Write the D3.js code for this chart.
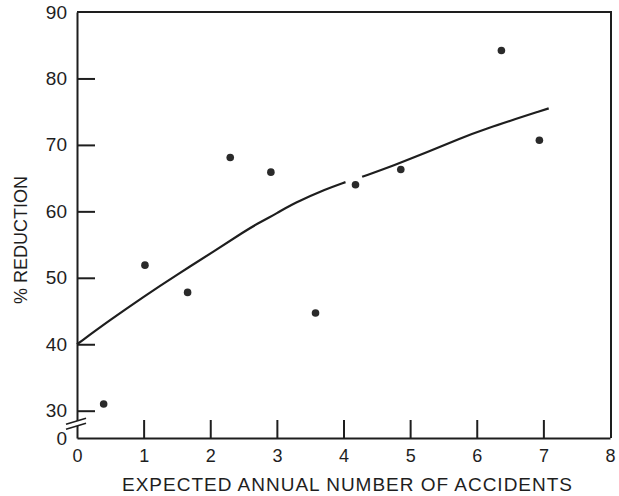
<!DOCTYPE html>
<html>
<head>
<meta charset="utf-8">
<script src="https://cdn.jsdelivr.net/npm/d3@7"></script>
<style>
  body { margin: 0; background: #fff; }
  svg text { font-family: "Liberation Sans", Arial, Helvetica, sans-serif; fill: #1e1e1e; }
</style>
</head>
<body>
<div id="chart"></div>
<script>
// observed accidents: expected annual number vs % reduction
const pointX = [0.40, 1.02, 1.66, 2.30, 2.91, 3.58, 4.18, 4.86, 6.37, 6.94];
const pointY = [31.0, 51.9, 47.8, 68.1, 65.9, 44.7, 64.0, 66.3, 84.2, 70.7];

// fitted curve (null = gap where it crosses the dot)
const curveX = [0, 0.49, 0.99, 1.49, 2.09, 2.50, 2.75, 3.00, 3.25, 3.75, 4.03, 4.15, 4.28, 4.75, 5.26, 5.76, 6.06, 7.08];
const curveY = [40.0, 43.6, 47.1, 50.4, 54.2, 56.9, 58.4, 59.7, 61.2, 63.4, 64.4, null, 65.2, 66.9, 68.9, 71.0, 72.2, 75.5];

const xTicks = [0, 1, 2, 3, 4, 5, 6, 7, 8];
const yTicks = [0, 30, 40, 50, 60, 70, 80, 90];

const width = 619, height = 496;
const plotLeft = 77, plotRight = 611, plotTop = 12, plotBottom = 438;

const svg = d3.select("#chart")
  .append("svg")
    .attr("width", width)
    .attr("height", height);

const x = d3.scaleLinear()
  .domain([0, 8])
  .range([plotLeft, plotRight - 1]);

// broken axis: 0 sits at the bottom, 30..90 above the break
const y = d3.scaleLinear()
  .domain([0, 30, 90])
  .range([plotBottom, 410.7, plotTop]);

// frame (top and right)
svg.append("path")
  .attr("d", `M${plotLeft},${plotTop}H${plotRight}V${plotBottom}`)
  .attr("fill", "none")
  .attr("stroke", "#1e1e1e")
  .attr("stroke-width", 2);

// x axis, ticks pointing inward
const gx = svg.append("g")
  .attr("transform", `translate(0,${plotBottom})`)
  .call(d3.axisBottom(x).tickValues(xTicks).tickSizeInner(-18).tickSizeOuter(0).tickPadding(11));
gx.select(".domain").attr("stroke", "#1e1e1e").attr("stroke-width", 2);
gx.selectAll(".tick line")
  .attr("stroke", "#1e1e1e").attr("stroke-width", 2)
  .filter(d => d === 0 || d === 8).remove();
gx.selectAll(".tick text").style("font-size", "18px").attr("fill", "#1e1e1e");

// y axis
const gy = svg.append("g")
  .attr("transform", `translate(${plotLeft},0)`)
  .call(d3.axisLeft(y).tickValues(yTicks).tickSizeInner(-18).tickSizeOuter(0).tickPadding(10));
gy.select(".domain").attr("stroke", "#1e1e1e").attr("stroke-width", 2);
gy.selectAll(".tick line")
  .attr("stroke", "#1e1e1e").attr("stroke-width", 2)
  .filter(d => d === 0 || d === 90).remove();
gy.selectAll(".tick text").style("font-size", "19px").attr("fill", "#1e1e1e");

// break marks on the y axis
const yb = (y(0) + y(30)) / 2;
svg.append("path")
  .attr("d", `M${plotLeft - 11},${yb + 5}L${plotLeft + 9},${yb - 1}L${plotLeft + 9},${yb - 6}L${plotLeft - 11},${yb}Z`)
  .attr("fill", "#fff");
[0, 5].forEach(off => {
  svg.append("line")
    .attr("x1", plotLeft - 11).attr("y1", yb + 5 - off)
    .attr("x2", plotLeft + 9).attr("y2", yb - 1 - off)
    .attr("stroke", "#1e1e1e")
    .attr("stroke-width", 1.6);
});

// fitted curve
const curve = curveX.map((d, i) => ({x: d, y: curveY[i]}));
svg.append("path")
  .datum(curve)
  .attr("fill", "none")
  .attr("stroke", "#1e1e1e")
  .attr("stroke-width", 2.2)
  .attr("d", d3.line()
    .defined(d => d.y !== null)
    .x(d => x(d.x))
    .y(d => y(d.y))
    .curve(d3.curveBasis));

// points
svg.append("g")
  .selectAll("circle")
  .data(pointX.map((d, i) => ({x: d, y: pointY[i]})))
  .join("circle")
    .attr("cx", d => x(d.x))
    .attr("cy", d => y(d.y))
    .attr("r", 3.8)
    .attr("fill", "#2a2a2a");

// axis titles
svg.append("text")
  .attr("x", 347)
  .attr("y", 491)
  .attr("text-anchor", "middle")
  .attr("textLength", 450)
  .attr("lengthAdjust", "spacing")
  .style("font-size", "19px")
  .text("EXPECTED ANNUAL NUMBER OF ACCIDENTS");

svg.append("text")
  .attr("transform", "translate(27,240) rotate(-90)")
  .attr("text-anchor", "middle")
  .style("font-size", "18px")
  .text("% REDUCTION");
</script>
</body>
</html>
